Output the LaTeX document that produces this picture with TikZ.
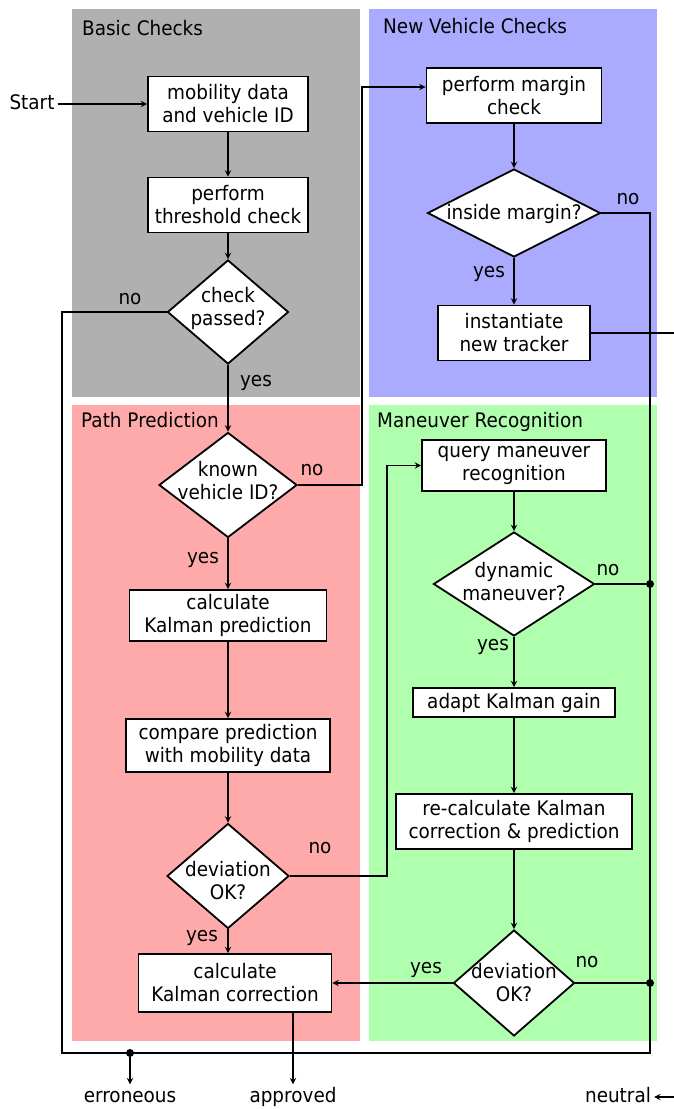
\documentclass[tikz,border=0pt]{standalone}
\usepackage{fontspec}
\setmainfont{DejaVu Sans}[FakeStretch=0.92]
\usetikzlibrary{shapes,arrows,positioning}

\definecolor{basicgray}{RGB}{176,176,176}
\definecolor{newblue}{RGB}{170,170,255}
\definecolor{pathred}{RGB}{255,170,170}
\definecolor{manugreen}{RGB}{175,255,175}

\begin{document}
\begin{tikzpicture}[
    x=1pt, y=-1pt,
    font=\fontsize{20}{23}\selectfont,
    box/.style={rectangle, draw, fill=white, line width=1.8pt, align=center, inner sep=2pt},
    decision/.style={diamond, draw, fill=white, line width=1.8pt, inner sep=0pt},
    arrow/.style={->,>=stealth,line width=1.8pt},
    line/.style={line width=1.8pt},
    junction/.style={circle, fill=black, inner sep=0pt, minimum size=8pt},
    answer/.style={inner sep=0pt, text height=11pt, text depth=0pt},
    terminal/.style={inner sep=3pt, text height=15pt, text depth=4pt},
    paneltitle/.style={anchor=base west, inner sep=0pt}
]
\useasboundingbox (0,0) rectangle (673,1109);

% Panels
\fill[basicgray] (72,9) rectangle (360,397);
\fill[newblue] (369,9) rectangle (657,397);
\fill[pathred] (72,405) rectangle (360,1041);
\fill[manugreen] (369,405) rectangle (657,1041);

\node[paneltitle] (basic) at (82,35) {Basic Checks};
\node[paneltitle] (newveh) at (383,33) {New Vehicle Checks};
\node[paneltitle] (pathpred) at (81,427) {Path Prediction};
\node[paneltitle] (manrec) at (377,427) {Maneuver Recognition};

% Basic checks
\node[box, minimum width=160pt, minimum height=55pt] (mob) at (228,104) {mobility data\\and vehicle ID};
\node[box, minimum width=160pt, minimum height=55pt] (thr) at (228,205) {perform\\threshold check};
\node[decision, minimum width=121pt, minimum height=104pt, label={[align=center, yshift=4pt]center:check\\passed?}] (chk) at (228,312) {};

% New vehicle checks
\node[box, minimum width=175pt, minimum height=55pt] (mgn) at (514,95.5) {perform margin\\check};
\node[decision, minimum width=173pt, minimum height=88pt, label={[yshift=-1pt]center:inside margin?}] (inm) at (514,213) {};
\node[box, minimum width=152pt, minimum height=55pt] (trk) at (514,333) {instantiate\\new tracker};

% Path prediction
\node[decision, minimum width=138pt, minimum height=105pt, label={[align=center, yshift=4pt]center:known\\vehicle ID?}] (known) at (228,485) {};
\node[box, minimum width=197pt, minimum height=51pt] (pred) at (228,615.5) {calculate\\Kalman prediction};
\node[box, minimum width=204pt, minimum height=53pt] (cmp) at (228,745.5) {compare prediction\\with mobility data};
\node[decision, minimum width=122pt, minimum height=105pt, label={[align=center, yshift=-5pt]center:deviation\\OK?}] (dev) at (228,876) {};
\node[box, minimum width=193pt, minimum height=58pt] (corr) at (235,983) {calculate\\Kalman correction};

% Maneuver recognition
\node[box, minimum width=184pt, minimum height=51pt] (qry) at (514,465.5) {query maneuver\\recognition};
\node[decision, minimum width=161pt, minimum height=104pt, label={[align=center, yshift=2pt]center:dynamic\\maneuver?}] (dyn) at (514,584) {};
\node[box, minimum width=202pt, minimum height=29pt] (adp) at (514,702.5) {adapt Kalman gain};
\node[box, minimum width=236pt, minimum height=55pt] (rec) at (514,821.5) {re-calculate Kalman\\correction \& prediction};
\node[decision, minimum width=121pt, minimum height=106pt, label={[align=center]center:deviation\\OK?}] (dev2) at (514,983) {};

% Terminals and junctions
\node[terminal] (start) at (32,104) {Start};
\node[terminal] (err) at (130,1097) {erroneous};
\node[terminal] (appr) at (293,1097) {approved};
\node[terminal] (neut) at (618,1097) {neutral};
\node[junction] (jdyn) at (650,584) {};
\node[junction] (jdev) at (650,983) {};
\node[junction] (jerr) at (130,1053) {};
\coordinate (loopL) at (62,1053);
\coordinate (loopR) at (650,1053);
\coordinate (trkout) at (690,333);
\coordinate (neutin) at (690,1097);

% Arrows
\draw[arrow] (start) -- (mob);
\foreach \i/\j in {mob/thr, thr/chk, chk/known, known/pred, pred/cmp, cmp/dev, mgn/inm, inm/trk, qry/dyn, dyn/adp, adp/rec, rec/dev2} {
    \draw[arrow] (\i) -- (\j);
}
\draw[line] (chk.west) -| (loopL) -- (loopR) |- (inm.east);
\draw[arrow] (jerr) -- (err);
\draw[line] (trk.east) -- (trkout);
\draw[arrow] (neutin) -- (neut);
\draw[arrow] (known.east) -- ++(64,0) |- ([yshift=8.5pt]mgn.west);
\draw[arrow] (dev.east) -- ++(97,0) |- (qry.west);
\draw[arrow] (dev) -- (dev |- corr.north);
\draw[arrow] (corr.south -| appr) -- (appr);
\draw[arrow] (dev2.west) -- (corr.east);
\draw[line] (dyn.east) -- (jdyn);
\draw[line] (dev2.east) -- (jdev);

% Answers
\node[answer] (chkno) at (130,299) {no};
\node[answer] (chkyes) at (256,381) {yes};
\node[answer] (knownno) at (312,470) {no};
\node[answer] (knownyes) at (203,558) {yes};
\node[answer] (devno) at (320,848) {no};
\node[answer] (devyes) at (202,936) {yes};
\node[answer] (inmno) at (628,199) {no};
\node[answer] (inmyes) at (489,272) {yes};
\node[answer] (dynno) at (608,570) {no};
\node[answer] (dynyes) at (493,645) {yes};
\node[answer] (dev2yes) at (426,968) {yes};
\node[answer] (dev2no) at (587,962) {no};

\end{tikzpicture}
\end{document}
